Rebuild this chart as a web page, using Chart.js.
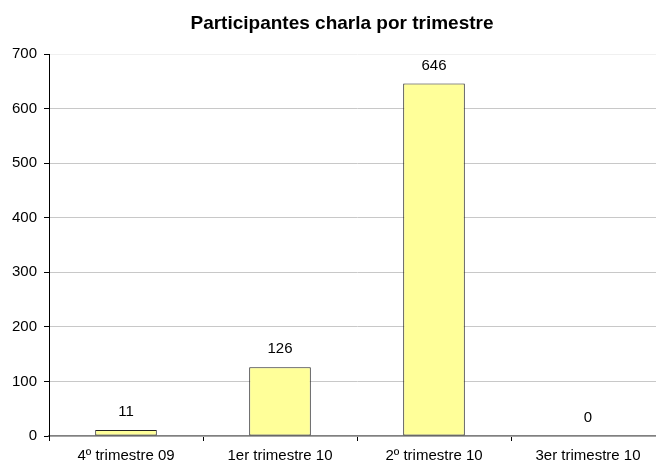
<!DOCTYPE html>
<html>
<head>
<meta charset="utf-8">
<script src="https://cdn.jsdelivr.net/npm/chart.js@4"></script>
<style>
  html, body { margin: 0; padding: 0; background: #fff; overflow: hidden; }
  #wrap { width: 656px; height: 466px; overflow: hidden; }
</style>
</head>
<body>
<div id="wrap"><canvas id="chart" width="672" height="466" style="width:672px;height:466px"></canvas></div>
<script>
const categories = ["4º trimestre 09", "1er trimestre 10", "2º trimestre 10", "3er trimestre 10"];
const participantes = [11, 126, 646, 0];
const yTicks = [0, 100, 200, 300, 400, 500, 600, 700];
const titulo = "Participantes charla por trimestre";

const FONT = "'Liberation Sans', Arial, sans-serif";

// value labels above each bar
const valueLabels = {
    id: "valueLabels",
    afterDatasetsDraw(chart) {
        const ctx = chart.ctx;
        const meta = chart.getDatasetMeta(0);
        ctx.save();
        ctx.font = "15px " + FONT;
        ctx.fillStyle = "#000";
        ctx.textAlign = "center";
        ctx.textBaseline = "middle";
        meta.data.forEach((bar, i) => {
            ctx.fillText(String(participantes[i]), bar.x, bar.y - 18);
        });
        ctx.restore();
    }
};

// title drawn by hand so it can sit a bit right of centre like the original
const chartTitle = {
    id: "chartTitle",
    afterDraw(chart) {
        const ctx = chart.ctx;
        ctx.save();
        ctx.font = "bold 19px " + FONT;
        ctx.fillStyle = "#000";
        ctx.textAlign = "center";
        ctx.textBaseline = "middle";
        ctx.fillText(titulo, 342, 24);
        ctx.restore();
    }
};

new Chart(document.getElementById("chart"), {
    type: "bar",
    data: {
        labels: categories,
        datasets: [{
            data: participantes,
            backgroundColor: "#FFFF99",
            borderColor: "#222",
            borderWidth: 1,
            borderSkipped: false,
            categoryPercentage: 1,
            barPercentage: 0.4
        }]
    },
    options: {
        responsive: false,
        animation: false,
        devicePixelRatio: 1,
        layout: { padding: { left: 0, right: 7, top: 54, bottom: 0 } },
        plugins: {
            legend: { display: false },
            tooltip: { enabled: false },
            title: { display: false }
        },
        scales: {
            x: {
                offset: true,
                grid: {
                    offset: true,
                    drawOnChartArea: false,
                    tickLength: 5,
                    tickColor: "#000"
                },
                border: { color: "#808080", width: 1.5 },
                ticks: {
                    color: "#000",
                    font: { family: FONT, size: 15 },
                    padding: 6,
                    maxRotation: 0
                },
                afterFit(scale) { scale.height = 30; }
            },
            y: {
                min: 0,
                max: 700,
                afterBuildTicks(scale) { scale.ticks = yTicks.map(v => ({ value: v })); },
                grid: {
                    color: ctx => (ctx.tick && ctx.tick.value === 700) ? "#f0f0f0" : "#c8c8c8",
                    tickColor: "#000",
                    tickLength: 5
                },
                border: { color: "#000", width: 1 },
                ticks: {
                    color: "#000",
                    font: { family: FONT, size: 15 },
                    padding: 7
                },
                afterFit(scale) { scale.width = 49; }
            }
        }
    },
    plugins: [valueLabels, chartTitle]
});
</script>
</body>
</html>
